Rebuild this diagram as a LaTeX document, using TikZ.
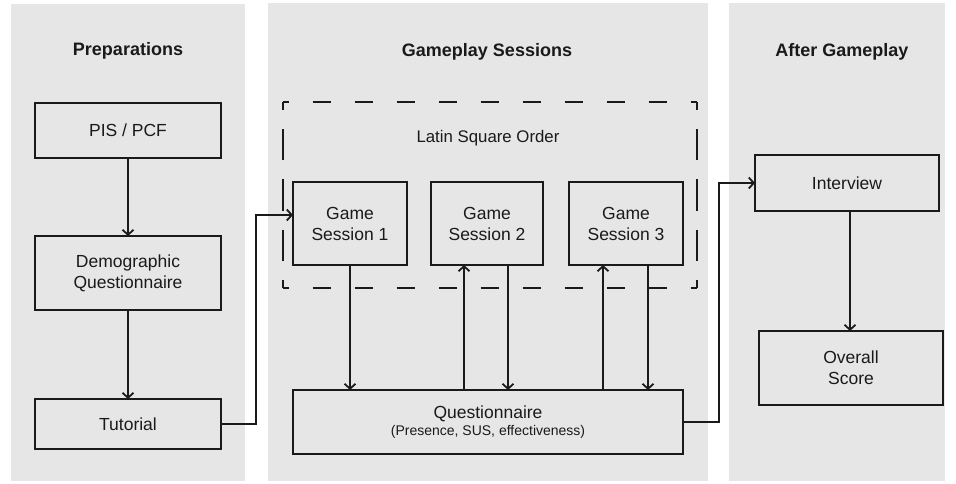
\documentclass[tikz,border=0pt]{standalone}
\usepackage{fontspec}
\setmainfont{Liberation Sans}
\usetikzlibrary{arrows.meta,calc}
\definecolor{panelgray}{HTML}{E6E6E6}
\definecolor{ink}{HTML}{1A1A1A}
\begin{document}
\begin{tikzpicture}[x=1pt,y=-1pt,
  panel/.style={fill=panelgray,draw=none},
  box/.style={draw=ink,line width=1.8pt,fill=panelgray,align=center,text=ink,
    font=\fontsize{17.5}{21}\selectfont,inner sep=0pt,outer sep=0pt,rectangle},
  heading/.style={font=\bfseries\fontsize{18}{20}\selectfont,text=ink},
  arr/.style={draw=ink,line width=1.8pt,-{Straight Barb[length=5pt,width=11pt]}},
  frame/.style={draw=none,inner sep=0pt,outer sep=0pt},
  hdash/.style={draw=ink,line width=1.8pt,line cap=square,dash pattern=on 18.7pt off 23.3pt,dash phase=12.35pt},
  vdash/.style={draw=ink,line width=1.8pt,line cap=square,dash pattern=on 31.2pt off 19.05pt,dash phase=23.1pt},
]
\useasboundingbox (0,0) rectangle (956,484);
\fill[white] (0,0) rectangle (956,484);
% panels
\fill[panel] (11,4) rectangle (245,481);
\fill[panel] (268,3) rectangle (708,481);
\fill[panel] (729,3) rectangle (945,481);
% headings
\node[heading] (h1) at (128,51) {Preparations};
\node[heading] (h2) at (487,52) {Gameplay Sessions};
\node[heading] (h3) at (842,52) {After Gameplay};
% left column
\node[box,minimum width=186pt,minimum height=55pt] (pis) at (128,130.5) {PIS / PCF};
\node[box,minimum width=186pt,minimum height=74pt] (demo) at (128,273) {Demographic\\Questionnaire};
\node[box,minimum width=186pt,minimum height=50pt] (tut) at (128,424) {Tutorial};
% middle: dashed Latin-square frame
\node[frame,minimum width=414pt,minimum height=186pt] (lso) at (490,195) {};
\draw[hdash] (lso.north west) -- (lso.north east);
\draw[hdash] (lso.south west) -- (lso.south east);
\draw[vdash] (lso.north west) -- (lso.south west);
\draw[vdash] (lso.north east) -- (lso.south east);
\node[text=ink,font=\fontsize{16.8}{18}\selectfont] (lsot) at (488,138) {Latin Square Order};
\node[box,minimum width=114pt,minimum height=83pt] (gs1) at (350,223.5) {Game\\Session 1};
\node[box,minimum width=112pt,minimum height=83pt] (gs2) at (487,223.5) {Game\\Session 2};
\node[box,minimum width=114pt,minimum height=83pt] (gs3) at (626,223.5) {Game\\Session 3};
\node[box,minimum width=390pt,minimum height=64pt] (q) at (488,422)
  {Questionnaire\\[-4pt]{\fontsize{14}{16}\selectfont (Presence, SUS, effectiveness)}};
% right
\node[box,minimum width=184pt,minimum height=56pt] (int) at (847,183) {Interview};
\node[box,minimum width=184pt,minimum height=74pt] (ov) at (851,368) {Overall\\Score};
% connectors
\draw[arr] (pis) -- (demo);
\draw[arr] (demo) -- (tut);
\draw[arr] (tut.east) -- ++(35,0) |- ([yshift=8.5pt]gs1.west);
\draw[arr] (gs1.south) -- (gs1.south |- q.north);
\draw[arr] ([xshift=-23pt]gs2.south |- q.north) -- ([xshift=-23pt]gs2.south);
\draw[arr] ([xshift=21pt]gs2.south) -- ([xshift=21pt]gs2.south |- q.north);
\draw[arr] ([xshift=-23pt]gs3.south |- q.north) -- ([xshift=-23pt]gs3.south);
\draw[arr] ([xshift=22pt]gs3.south) -- ([xshift=22pt]gs3.south |- q.north);
\draw[arr] (q.east) -- ++(36,0) |- (int.west);
\draw[arr] ([xshift=3pt]int.south) -- ([xshift=3pt]int.south |- ov.north);
\end{tikzpicture}
\end{document}
